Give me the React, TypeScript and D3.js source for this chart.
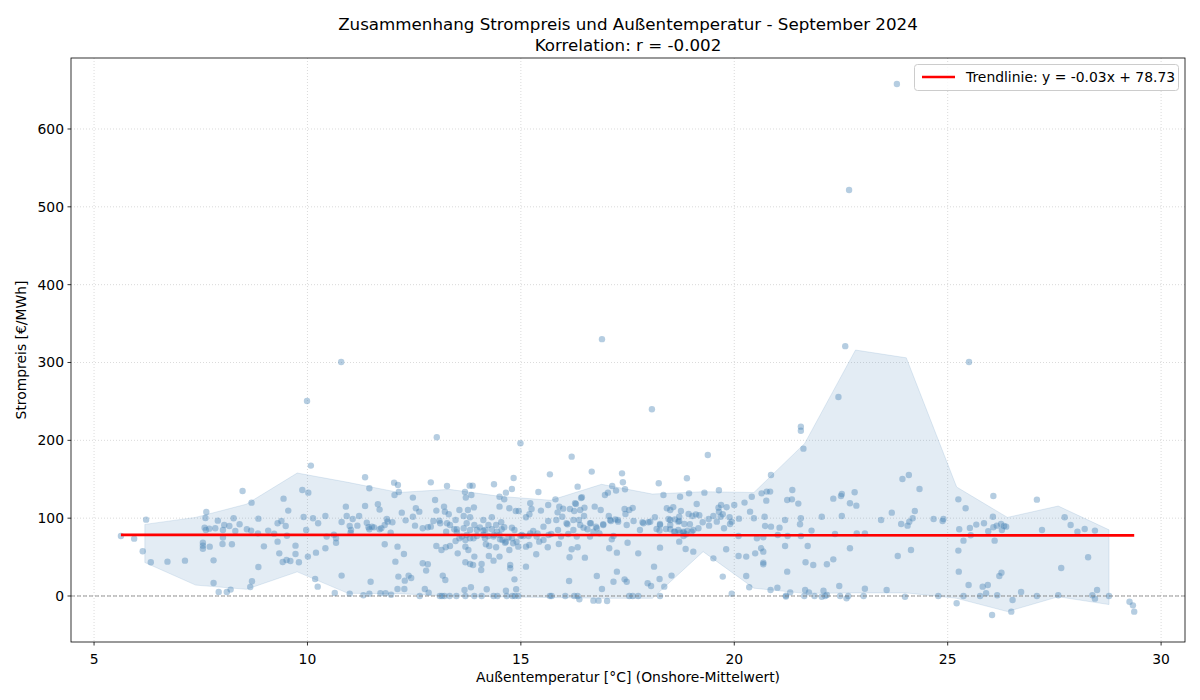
import React from "react";
import * as d3 from "d3";

// Hourly observations: [temperature °C, price €/MWh]
const hoursCool: [number, number][] = [
  [5.63,77.1],[5.94,73.7],[6.22,98.1],[6.14,57.4],[6.33,43.3],[6.72,44.1],[7.13,45.4],[8.48,134.9],[8.69,119.9],[7.63,107.9],[7.61,100.2],[7.59,87.8],[7.7,86.5],[7.62,84.8],[7.84,87],[7.9,96.8],[8.05,91.2],[8.17,90],[8.02,84.8],[8.27,99.8],[8.31,83.5],[8.41,92.1],[8.58,85.7],[8.68,84],[8.85,99.4],[8.84,80.5],[8.02,75],[7.55,68.5],[7.55,64.7],[7.55,60.8],[7.71,63.4],[8.01,66.8],[8.23,66.4],[7.8,45.8],[7.8,16.7],[7.92,5.2],[8.11,5.2],[8.2,8.2],[8.66,11.6],[8.7,18.9],[8.85,37.3],[8.98,63.8],[9.08,84],[9.22,80.1],[9.3,93.4],[9.39,96.4],[9.44,125.1],[9.49,90],[9.55,109.7],[9.3,69.8],[9.34,54.8],[9.42,43.7],[9.51,46.3],[9.6,45],[9.72,64.7],[9.72,54],[9.8,43.3],[9.52,77.5],
  [13.03,203.9],[10.08,167.5],[9.99,250.5],[10.79,300.7],
  [9.88,136.2],[10.02,132.8],[11.35,152.5],[11.45,138.4],[12.03,145.6],[12.12,142.6],[12.14,133.6],[12.04,129.8],[12.89,146],[13.27,141.4],[13.8,141.8],[13.87,141.8],[13.69,133.6],[13.71,126.4],[13.84,129.8],[12.47,126.4],[12.99,123.4],[9.91,101.5],[10.13,99.8],[10.25,93.4],[10.42,102.8],[9.97,84.8],[10.9,114.8],[10.92,102.8],[11.06,99],[11.21,102.8],[10.8,95.1],[10.99,90],[11.02,84.8],[11.17,90.4],[11.35,115.7],[11.65,117.8],[11.69,111],[11.39,94.2],[11.43,88.3],[11.51,89.1],[11.73,87],[11.81,91.2],[11.86,99],[11.88,95.5],[11.99,94.7],[11.95,81.4],[12.21,107.1],[12.3,97.2],[12.47,101.9],[12.54,112.7],[12.62,108.4],[12.52,90.4],[12.7,87],[12.82,88.3],[12.89,89.1],[12.95,96.4],[13.02,109.7],[13.09,96.8],[13.2,114.8],[13.22,108.4],[13.27,93.4],[13.25,82.7],[13.31,105],[13.47,97.7],[13.44,85.7],[13.5,81.8],[13.56,110.5],[13.66,102.8],[13.76,110.5],[13.9,113.9],[13.81,101.1],[13.66,87],[13.73,93.4],[13.81,84.8],[13.91,91.2],[13.97,84.8],[13.73,78.4],[13.56,74.1],[13.7,72],[13.89,74.1],[10.62,78.8],[10.67,74.1],[10.67,68.5],[10.45,76.3],[10.42,61.3],[10.2,55.7],[10.01,50.6],[11.81,66.4],[12.11,63.4],[12.26,54],[12.06,44.1],[12.7,42],[12.82,40.7],[12.78,32.6],[13.02,64.3],[13.14,59.1],[13.24,62.6],[13.34,64.3],[13.52,54.8],[13.47,70.7],[13.7,63.4],[13.7,43.3],[13.81,41.1],[13.88,39.9],[13.91,50.6],[13.77,59.1],[10.8,26.2],[10.18,21.9],[10.24,12],[11.48,18.4],[12.13,24.9],[12.37,26.2],[12.43,23.1],[12.28,19.7],[12.11,9],[12.27,9],[12.75,9],[12.84,4.3],[13.17,26.2],[13.23,20.6],[13.68,7.7],[13.83,11.2],[10.64,3.9],[10.99,3],[11.31,0.9],[11.45,3],[11.71,3.5],[11.83,3.5],[11.96,1.7],[12.63,0],[13.1,0],[13.15,0],[13.21,0],[13.33,0],[13.49,0],[13.7,0],[13.91,0],
  [11.45,85.7],[11.56,88.2],[11.69,85.7],[11.01,81.4],[13.62,76.3],[13.5,85.7],[13.34,91.2],[13.11,93.4],[13.81,74.1],[13.97,77.1],
];

const hoursMild: [number, number][] = [
  [14.99,196.2],[16.19,179],[14.37,143.5],[14.83,151.6],[15.68,156.3],[16.66,159.8],[17.37,157.6],[17.39,146.1],[16.33,140.5],[15.41,133.6],[14.65,132.8],[14.79,137.5],[14.5,127.6],[14.61,124.2],[14.5,114.8],[14.73,112.7],[14.88,109.2],[14.95,109.2],[15.22,119.1],[15.25,111.8],[15.2,105],[15.12,101.1],[15.47,109.7],[15.64,116.9],[15.81,124.2],[15.9,114.8],[15.86,107.5],[15.99,112.2],[15.97,101.9],[15.83,97.7],[15.64,96.4],[16.09,92.1],[16.15,111.8],[16.25,109.2],[16.29,118.2],[16.41,125.9],[16.39,110.5],[16.49,113.5],[16.48,102.8],[16.36,97.7],[16.73,114.8],[16.87,110.5],[16.97,129.8],[17.04,132.8],[17.14,141.4],[17.23,135.4],[17.44,137.1],[17.06,102.8],[17.11,96.4],[17.21,98.5],[17.27,97.7],[17.43,111.8],[17.45,105.4],[17.54,110.5],[17.62,113.1],[17.64,96.4],[17.85,94.7],[17.99,94.7],[14.12,97.7],[14.32,101.1],[14.42,91.2],[14.24,91.2],[14.54,94.7],[14.79,87.8],[14.85,84.8],[14.61,88.3],[15.29,83.5],[15.53,89.1],[15.87,84.8],[16.47,87.8],[16.56,85.7],[16.64,93.4],[16.76,89.1],[16.93,92.1],[14.17,84.8],[14.12,78.4],[14.24,77.1],[14.37,78.4],[14.5,78.4],[14.71,75.4],[14.99,77.1],[15.06,77.1],[15.18,77.1],[15.39,80.5],[15.71,79.7],[15.94,76.3],[16.11,79.7],[16.31,76.3],[16.62,76.3],[16.84,80.5],[17.13,72.8],[17.17,77.1],[14.18,66.4],[14.26,64.3],[14.42,62.6],[14.57,72],[14.63,68.5],[14.82,67.7],[14.73,59.1],[14.94,63.4],[15.12,63.4],[15.2,65.5],[15.43,69.8],[15.63,62.6],[15.89,66.8],[16.19,60],[16.33,62.6],[17.07,61.3],[17.25,55.7],[17.5,68.5],[17.75,54.8],[15.36,53.6],[14.25,51.4],[14.36,45.4],[14.5,50.6],[14.08,41.1],[14.07,33.4],[14.75,39.9],[14.75,35.6],[15.12,37.7],[16.14,49.7],[16.5,49.3],[17.25,31.3],[17.17,18.4],[17.43,21.4],[17.48,18.4],[17.97,16.3],[16.78,25.7],[16.9,9],[16.13,19.3],[14.85,21.4],[14.2,8.6],[14.65,6.9],[14.89,8.6],[14.08,0],[14.36,0],[14.45,0],[14.67,0],[14.8,0],[14.86,0],[14.94,0],[15.68,0],[15.72,0],[16.04,0],[16.25,0],[16.33,0],[16.37,-4.3],[16.7,-6],[16.82,-6],[17.02,-6.4],[17.54,0],[17.62,0],[17.75,0],[16.9,330],
  [14.04,88.2],[14.12,84],[14.32,85.7],[14.44,82.7],[14.55,85.7],[14.16,74.1],[14.36,76.3],[14.51,72.8],[14.65,69.8],[14.79,74.1],[14.9,69.8],[15.02,78.4],[15.22,80.5],[15.37,76.3],[15.53,72],[15.65,78.4],
  [16.07,93.4],[16.23,97.7],[16.39,91.2],[16.62,93.4],[16.78,87],[16.93,91.2],[17.09,97.7],[17.28,95.5],[17.48,91.2],[17.87,93.4],[16.23,84.8],[16.7,82.7],[17.79,84.8],[16.43,126.8],[16.27,119.1],
];

const hoursWarm: [number, number][] = [
  [18.07,240],[21.56,217.6],[21.56,212.4],[21.62,189.3],[19.38,181.2],[20.86,155.5],[18.23,144.8],[18.89,151.2],[18.34,129.8],[18.94,131.9],[19.3,132.8],[19.64,135.8],[20.64,131.9],[20.76,134.1],[20.84,134.1],[20.75,122.5],[21.36,136.2],[21.24,123.4],[21.35,124.2],[21.5,118.7],[20.41,127.6],[20.24,120],[20.0,117],[19.82,114],[19.69,117],[19.63,113.5],[19.64,108.4],[19.12,118.2],[18.42,112.7],[18.57,114],[18.5,110.5],[18.75,109.2],[18.93,105.4],[19.02,102.8],[19.1,104.9],[19.18,103.7],[18.14,101.1],[18.46,99],[18.61,98.5],[18.71,101.9],[18.71,96.4],[18.83,92.5],[18.96,92.1],[19.26,94.7],[19.4,99],[19.51,102.8],[19.59,95.5],[19.68,101.9],[19.73,105],[19.89,101.1],[19.94,95.5],[20.11,99.4],[20.37,108.4],[20.46,99.8],[20.71,101.9],[20.72,90],[20.86,89.1],[21.06,87.8],[21.19,97.7],[21.54,92.1],[21.56,99.8],[21.81,84],[18.26,92.5],[18.18,86.1],[18.25,84],[18.4,86.1],[18.5,91.2],[18.5,85.7],[18.59,82.7],[18.69,84.8],[18.73,81.4],[18.81,81.4],[18.9,84],[19.0,82.7],[19.04,84.8],[19.16,87],[19.41,90.4],[19.76,87],[19.9,92.5],[20.1,77.1],[20.53,74.1],[20.68,75.4],[21.02,78.4],[21.25,77.1],[21.56,77.1],[18.71,69.8],[18.81,77.1],[18.87,79.3],[18.26,62.1],[18.86,60.4],[19.04,57],[19.51,48.4],[19.81,60],[20.1,51.4],[20.28,50.6],[20.49,54.8],[20.63,61.3],[20.68,57],[20.68,42.9],[20.68,40.7],[21.19,64.3],[21.72,64.3],[21.67,43.3],[21.85,39.9],[21.24,31.3],[18.12,37.7],[18.53,26.2],[18.05,12.9],[18.25,21.9],[18.36,12],[19.73,24.9],[20.28,25.7],[20.35,11.2],[19.94,3],[20.85,7.7],[21.01,10.7],[21.21,0.5],[21.21,-0.8],[21.31,4.7],[21.64,0],[21.66,7.7],[21.75,4.7],[21.88,0],[18.26,0],
  [18.03,95.5],[18.26,91.2],[18.5,97.7],[18.69,95.5],[18.61,82.7],[18.81,82.7],[18.73,127.6],
];

const hoursHot: [number, number][] = [
  [23.81,657.8],[22.69,521.6],[22.6,321],[22.44,255.7],[25.5,300.7],
  [23.94,150.3],[24.09,155.5],[24.34,137.5],[22.32,125.1],[22.5,128.5],[22.52,131.1],[22.82,133.2],[22.71,119.1],[22.86,116.1],[22.05,101.9],[22.52,102.8],[23.44,97.7],[23.69,107.1],[23.91,92.5],[24.06,90.4],[24.1,95.5],[24.18,99.8],[24.23,109.2],[24.67,99],[24.88,96.4],[24.9,99],[25.25,124.2],[25.42,112.7],[25.27,85.7],[25.52,87.4],[25.67,91.7],[25.85,93.4],[25.95,83.1],[22.36,79.7],[22.87,80.5],[23.06,80.5],[25.54,78],[25.37,71.1],[22.71,61.3],[23.83,51.4],[24.14,59.1],[22.17,40.7],[22.32,47.1],[25.25,58.3],[25.26,31.3],[22.46,12.9],[23.06,9.4],[23.57,7.7],[25.49,14.1],[25.82,12],[25.94,14.1],[22.09,6.9],[22.05,-0.9],[22.13,0],[22.17,1.3],[22.48,0],[22.63,-3],[22.67,0],[23.03,0],[24.0,-0.9],[24.78,0],[25.37,0],[25.21,-9.4],[25.76,0],[25.9,3.5],
  [26.07,128.5],[27.09,123.8],[26.06,101.9],[26.07,88.3],[26.15,90.4],[26.25,92.5],[26.27,84.8],[26.32,89.9],[26.37,89.1],[26.1,71.1],[27.21,84.8],[27.74,101.1],[27.88,91.2],[28.04,82.7],[28.21,86.1],[28.45,84],[28.29,49.7],[27.66,36],[26.21,25.7],[26.26,30],[26.16,0.9],[26.72,5.2],[27.09,0],[27.59,0.9],[26.52,-5.1],[26.49,-20.1],[26.04,-24.4],[28.39,0.9],[28.45,-3.4],[28.5,7.7],[28.78,0],[29.26,-7.3],[29.34,-12],[29.37,-20.1],
];

// Percentile band per temperature bin
const bandCenter = [6.19, 7.38, 8.57, 9.76, 10.95, 12.14, 13.32, 14.51, 15.7, 16.89, 18.08, 19.27, 20.46, 21.65, 22.84, 24.03, 25.21, 26.4, 27.59, 28.78];
const bandLow = [43, 14, 8.6, 31, 3.4, 3, 0, -1, -2, -3, -3, 57, 10, 3.4, 4, 4, -3, -20, -1, -11];
const bandHigh = [92, 101, 118, 158, 146, 133, 137, 128, 123, 143.5, 131, 134, 133, 196, 316, 306, 140, 101, 115.6, 85];

const xTicks = [5, 10, 15, 20, 25, 30];
const yTicks = [0, 100, 200, 300, 400, 500, 600];

const trendSlope = -0.03;
const trendIntercept = 78.73;
const correlation = "-0.002";

const W = 1200;
const H = 700;
const M = { left: 71, right: 1185, top: 58, bottom: 642 };
const FONT = "DejaVu Sans, sans-serif";

export default function App() {
  const points = [...hoursCool, ...hoursMild, ...hoursWarm, ...hoursHot];
  const x = d3.scaleLinear().domain([4.46, 30.56]).range([M.left, M.right]);
  const y = d3.scaleLinear().domain([-59.1, 691.2]).range([M.bottom, M.top]);

  const band = d3
    .area<number>()
    .x((_, i) => x(bandCenter[i]))
    .y0((_, i) => y(bandLow[i]))
    .y1((_, i) => y(bandHigh[i]));

  const [tMin, tMax] = d3.extent(points, (p) => p[0]) as [number, number];
  const trend = d3
    .line<number>()
    .x((t) => x(t))
    .y((t) => y(trendSlope * t + trendIntercept));

  return (
    <div style={{ position: "absolute", left: 0, top: 0 }}>
      <svg width={W} height={H} style={{ display: "block", background: "#fff" }} fontFamily={FONT}>
        <defs>
          <clipPath id="plot">
            <rect x={M.left} y={M.top} width={M.right - M.left} height={M.bottom - M.top} />
          </clipPath>
        </defs>
        {/* grid */}
        <g stroke="#b0b0b0" strokeOpacity={0.6} strokeWidth={0.8} strokeDasharray="1,2">
          {xTicks.map((t) => (
            <line key={"gx" + t} x1={x(t)} x2={x(t)} y1={M.top} y2={M.bottom} />
          ))}
          {yTicks.map((t) => (
            <line key={"gy" + t} x1={M.left} x2={M.right} y1={y(t)} y2={y(t)} />
          ))}
        </g>
        <g clipPath="url(#plot)">
          <path
            d={band(bandCenter) || ""}
            fill="#4682b4"
            fillOpacity={0.15}
            stroke="#4682b4"
            strokeOpacity={0.15}
            strokeWidth={1}
          />
          <g fill="#4682b4" fillOpacity={0.4}>
            {points.map((p, i) => (
              <circle key={i} cx={x(p[0])} cy={y(p[1])} r={3.2} />
            ))}
          </g>
          <line
            x1={M.left}
            x2={M.right}
            y1={y(0)}
            y2={y(0)}
            stroke="#808080"
            strokeOpacity={0.8}
            strokeWidth={1}
            strokeDasharray="4,2"
          />
          <path d={trend([tMin, tMax]) || ""} stroke="#ff0000" strokeWidth={2.6} fill="none" />
        </g>
        {/* frame */}
        <rect
          x={M.left}
          y={M.top}
          width={M.right - M.left}
          height={M.bottom - M.top}
          fill="none"
          stroke="#000"
          strokeWidth={0.8}
        />
        {/* axes */}
        <g fontSize={13.9} fill="#000">
          {xTicks.map((t) => (
            <g key={"xt" + t}>
              <line x1={x(t)} x2={x(t)} y1={M.bottom} y2={M.bottom + 3.5} stroke="#000" strokeWidth={0.8} />
              <text x={x(t)} y={M.bottom + 21.5} textAnchor="middle">
                {t}
              </text>
            </g>
          ))}
          {yTicks.map((t) => (
            <g key={"yt" + t}>
              <line x1={M.left - 3.5} x2={M.left} y1={y(t)} y2={y(t)} stroke="#000" strokeWidth={0.8} />
              <text x={M.left - 7} y={y(t) + 5} textAnchor="end">
                {t}
              </text>
            </g>
          ))}
          <text x={(M.left + M.right) / 2} y={682} textAnchor="middle">
            Außentemperatur [°C] (Onshore-Mittelwert)
          </text>
          <text transform={`translate(26, ${(M.top + M.bottom) / 2}) rotate(-90)`} textAnchor="middle">
            Strompreis [€/MWh]
          </text>
        </g>
        {/* title */}
        <g fontSize={16.7} textAnchor="middle" fill="#000">
          <text x={(M.left + M.right) / 2} y={29.5}>
            Zusammenhang Strompreis und Außentemperatur - September 2024
          </text>
          <text x={(M.left + M.right) / 2} y={50.5}>
            Korrelation: r = {correlation}
          </text>
        </g>
        {/* legend */}
        <g>
          <rect x={914.5} y={64.5} width={264} height={26} rx={3} fill="#fff" fillOpacity={0.8} stroke="#cccccc" />
          <line x1={922} x2={955} y1={77} y2={77} stroke="#ff0000" strokeWidth={2.6} />
          <text x={966} y={82} fontSize={13.9} fill="#000">
            {`Trendlinie: y = ${trendSlope.toFixed(2)}x + ${trendIntercept.toFixed(2)}`}
          </text>
        </g>
      </svg>
    </div>
  );
}
